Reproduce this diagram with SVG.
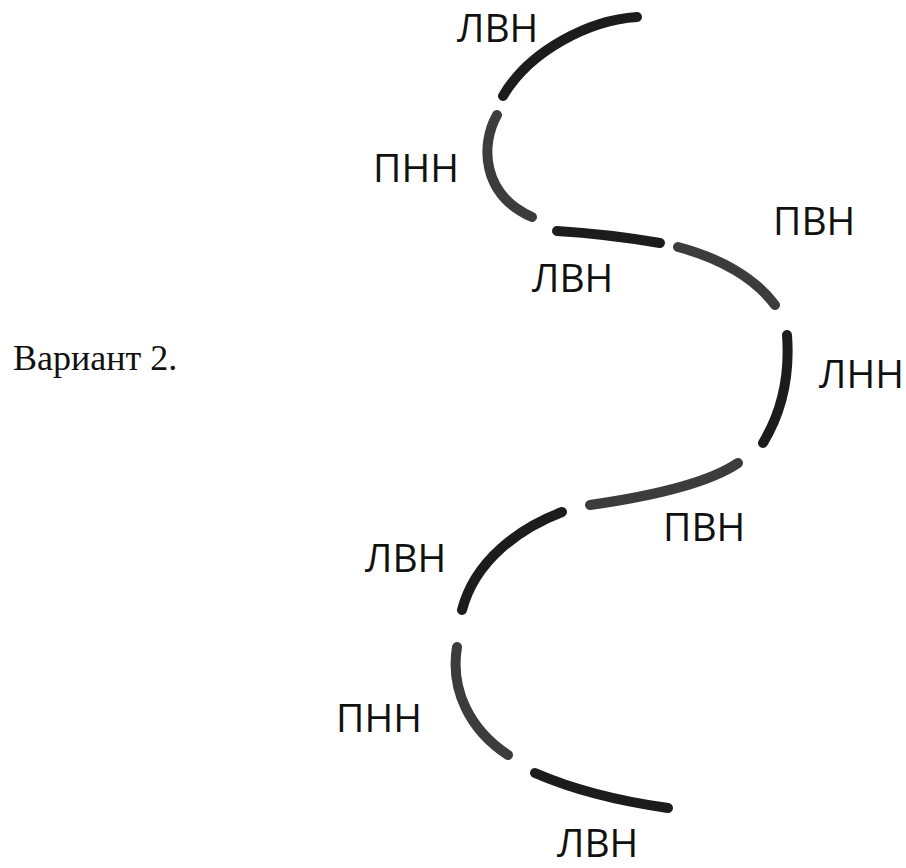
<svg xmlns="http://www.w3.org/2000/svg" width="906" height="868" viewBox="0 0 906 868">
<style>
.seg{fill:none;stroke-width:10;stroke-linecap:round}
.d{stroke:#1c1c1c}
.g{stroke:#3c3c3c}
.lbl{font-family:"Open Sans","Noto Sans",sans-serif;font-size:39px;fill:#111}
.ttl{font-family:"Liberation Serif","Times New Roman",serif;font-size:36px;fill:#111}
</style>
<rect width="906" height="868" fill="#fff"/>
<g id="segments">
<path class="seg d" d="M637,17 C590,20 530,50 503,96"/>
<path class="seg g" d="M497,115 C480,145 482,195 532,217"/>
<path class="seg d" d="M557,231 Q607,234 660,243"/>
<path class="seg g" d="M678,247 C720,258 755,278 775,305"/>
<path class="seg d" d="M787,335 C790,375 783,410 763,443"/>
<path class="seg g" d="M738,463 C710,482 660,495 590,505"/>
<path class="seg d" d="M562,512 C520,528 475,560 462,610"/>
<path class="seg g" d="M457,647 C450,690 470,730 508,755"/>
<path class="seg d" d="M535,773 Q590,797 668,808"/>
</g>
<g id="labels">
<text class="lbl" x="457" y="42">ЛВН</text>
<text class="lbl" x="373" y="182">ПНН</text>
<text class="lbl" x="532" y="292">ЛВН</text>
<text class="lbl" x="773" y="235">ПВН</text>
<text class="lbl" x="819" y="388">ЛНН</text>
<text class="lbl" x="663" y="541">ПВН</text>
<text class="lbl" x="365" y="572">ЛВН</text>
<text class="lbl" x="336" y="732">ПНН</text>
<text class="lbl" x="557" y="857">ЛВН</text>
</g>
<text id="title" class="ttl" x="13" y="370">Вариант 2.</text>
</svg>
